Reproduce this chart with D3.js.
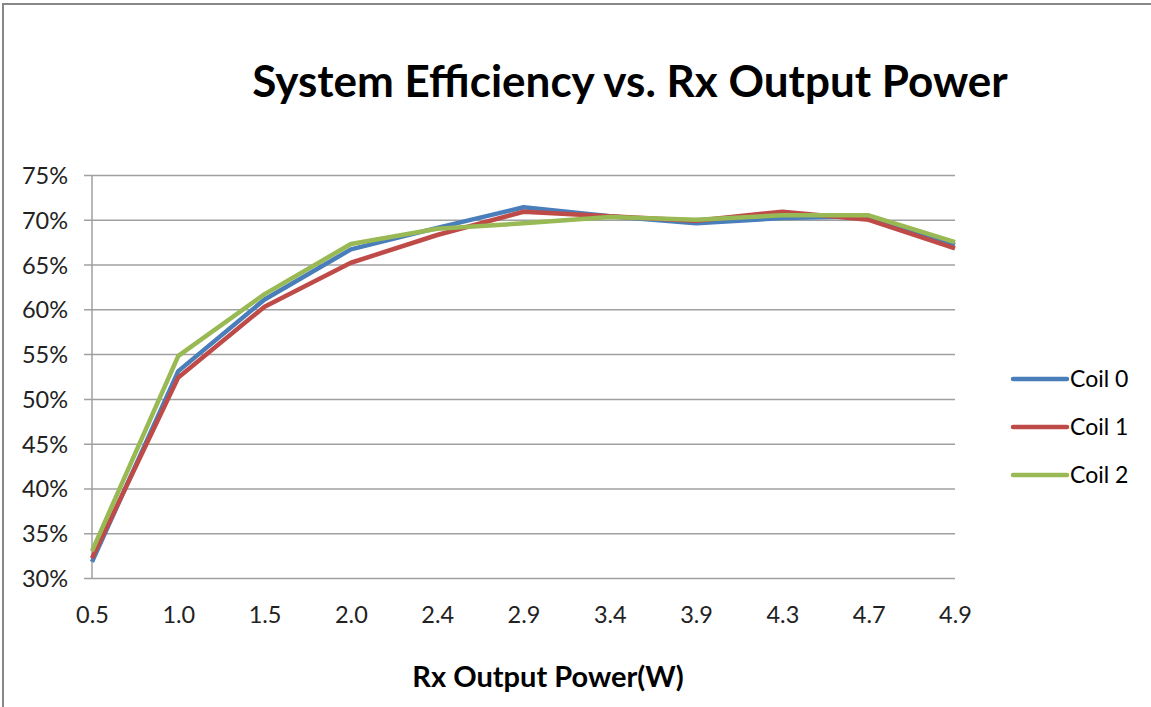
<!DOCTYPE html>
<html><head><meta charset="utf-8">
<script src="https://cdn.jsdelivr.net/npm/d3@7"></script>
<style>body{margin:0;background:#fff;}svg{display:block;font-family:Lato,"Open Sans",sans-serif;}</style>
</head><body>
<script>
const categories = ["0.5","1.0","1.5","2.0","2.4","2.9","3.4","3.9","4.3","4.7","4.9"];
const coil0 = [31.8, 53.1, 61.1, 66.7, 69.1, 71.4, 70.4, 69.6, 70.2, 70.4, 67.2];
const coil1 = [32.2, 52.4, 60.3, 65.2, 68.3, 70.9, 70.4, 69.9, 70.9, 70.0, 66.8];
const coil2 = [33.0, 54.8, 61.7, 67.3, 69.0, 69.6, 70.3, 70.0, 70.5, 70.5, 67.5];
const seriesNames = ["Coil 0","Coil 1","Coil 2"];
const seriesColors = ["#4A7EBB","#BE4B48","#98B954"];
const yTicks = [30,35,40,45,50,55,60,65,70,75];
const title = "System Efficiency vs. Rx Output Power";
const xTitle = "Rx Output Power(W)";

const W = 1151, H = 707;
const svg = d3.select("body").append("svg").attr("width", W).attr("height", H);
svg.append("rect").attr("width", W).attr("height", H).attr("fill", "#fff");
svg.append("rect").attr("x", 3).attr("y", 4).attr("width", W + 10).attr("height", H + 10)
  .attr("fill", "none").attr("stroke", "#878787").attr("stroke-width", 2);

const L = 92, R = 955, T = 175, B = 578;
const x = d3.scalePoint().domain(categories).range([L, R]).padding(0);
const y = d3.scaleLinear().domain([30, 75]).range([B, T]);

// gridlines + y axis
const yAxis = d3.axisLeft(y).tickValues(yTicks).tickFormat(d => d + "%").tickSize(-(R - L + 8));
const gy = svg.append("g").attr("transform", `translate(${L - 8},0)`).call(yAxis);
gy.select(".domain").remove();
gy.selectAll(".tick line").attr("stroke", "#a0a0a0").attr("stroke-width", 1.5).attr("x1", 0).attr("x2", R - L + 8);
gy.selectAll(".tick text").attr("font-size", 23.5).attr("fill", "#222").attr("font-family", "Lato,sans-serif")
  .attr("x", -16).attr("dy", "0.36em");
svg.append("line").attr("x1", L).attr("x2", L).attr("y1", T).attr("y2", B).attr("stroke", "#a0a0a0").attr("stroke-width", 1.5);

// x axis
const xAxis = d3.axisBottom(x).tickSize(0).tickPadding(28);
const gx = svg.append("g").attr("transform", `translate(0,${B})`).call(xAxis);
gx.select(".domain").remove();
gx.selectAll(".tick text").attr("font-size", 23.5).attr("fill", "#222").attr("font-family", "Lato,sans-serif");

// lines
const allSeries = [coil0, coil1, coil2];
const line = d3.line().x((d, i) => x(categories[i])).y(d => y(d));
allSeries.forEach((s, k) => {
  svg.append("path").datum(s).attr("d", line).attr("fill", "none")
    .attr("stroke", seriesColors[k]).attr("stroke-width", 4.5).attr("stroke-linejoin", "round");
});

// title
svg.append("text").attr("x", 630).attr("y", 97).attr("text-anchor", "middle")
  .attr("font-size", 44).attr("font-weight", "bold").attr("fill", "#000").text(title);
svg.append("text").attr("x", 548).attr("y", 687).attr("text-anchor", "middle")
  .attr("font-size", 29).attr("font-weight", "bold").attr("fill", "#000").text(xTitle);

// legend
seriesNames.forEach((n, k) => {
  const ly = 379 + k * 48;
  svg.append("line").attr("x1", 1013).attr("x2", 1067).attr("y1", ly).attr("y2", ly)
    .attr("stroke", seriesColors[k]).attr("stroke-width", 4.5).attr("stroke-linecap", "round");
  svg.append("text").attr("x", 1070).attr("y", ly + 8).attr("font-size", 23).attr("fill", "#000").text(n);
});
</script>
</body></html>
